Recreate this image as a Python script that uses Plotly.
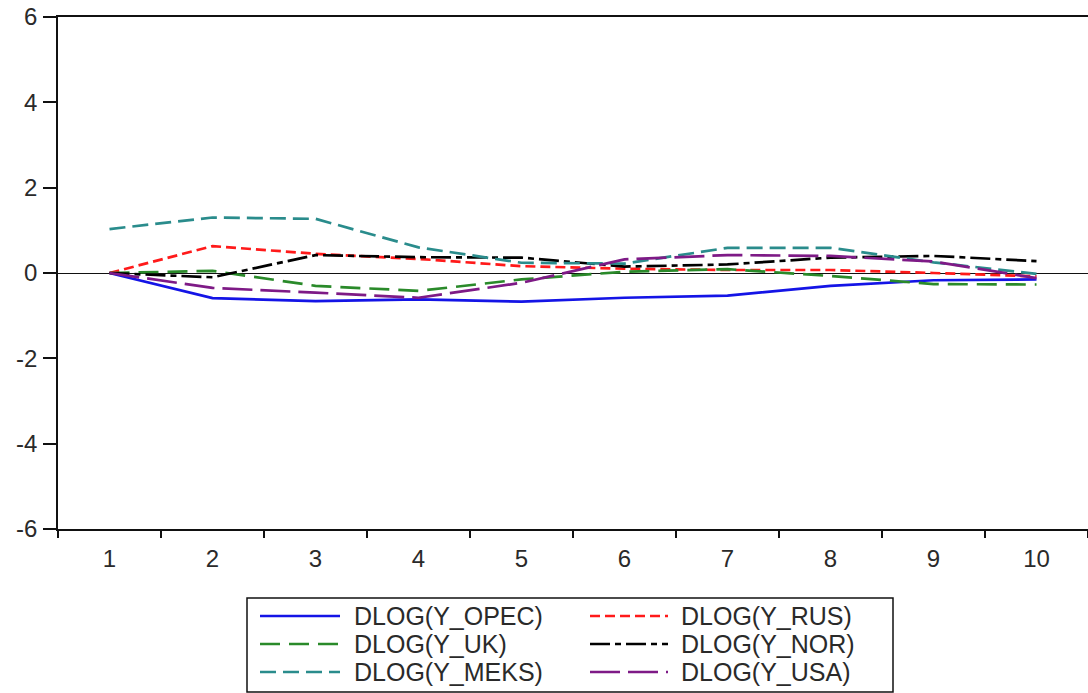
import plotly.graph_objects as go

# Response horizons (periods)
periods = ["1", "2", "3", "4", "5", "6", "7", "8", "9", "10"]

# Series values per period
y_opec = [0.00, -0.59, -0.66, -0.62, -0.67, -0.58, -0.53, -0.30, -0.17, -0.15]
y_rus = [0.00, 0.63, 0.45, 0.33, 0.16, 0.10, 0.07, 0.07, 0.00, -0.08]
y_uk = [0.00, 0.05, -0.30, -0.42, -0.15, 0.03, 0.09, -0.07, -0.26, -0.27]
y_nor = [0.00, -0.10, 0.42, 0.37, 0.36, 0.15, 0.20, 0.36, 0.40, 0.28]
y_meks = [1.03, 1.30, 1.27, 0.60, 0.24, 0.22, 0.59, 0.59, 0.25, -0.02]
y_usa = [0.00, -0.35, -0.46, -0.58, -0.23, 0.32, 0.42, 0.40, 0.27, -0.12]

# Y axis ticks and their labels (plain hyphen for negatives)
y_ticks = [-6, -4, -2, 0, 2, 4, 6]
y_tick_labels = ["-6", "-4", "-2", "0", "2", "4", "6"]

names = ["DLOG(Y_OPEC)", "DLOG(Y_RUS)", "DLOG(Y_UK)",
         "DLOG(Y_NOR)", "DLOG(Y_MEKS)", "DLOG(Y_USA)"]
values = [y_opec, y_rus, y_uk, y_nor, y_meks, y_usa]
colors = ["#1414e6", "#ff1a1a", "#2a8a2a", "#000000", "#2a8c8c", "#7e1a86"]
dashes = ["solid", "10px,5px", "20px,9px", "20px,5px,6px,5px",
          "16px,7px", "30px,8px"]

W, H = 1088, 693
L, R, T, B = 58, 0, 17, 164
PW, PH = W - L - R, H - T - B

fig = go.Figure()
for name, vals, col, dash in zip(names, values, colors, dashes):
    fig.add_trace(go.Scatter(
        x=periods, y=vals, mode="lines", name=name,
        line=dict(color=col, width=2.7, dash=dash),
        showlegend=False,
    ))


def px_x(px):
    return (px - L) / PW


def px_y(py):
    return (H - B - py) / PH


# Boxed legend below the plot, two columns by three rows
shapes = [dict(type="rect", xref="paper", yref="paper",
               x0=px_x(247), x1=px_x(893), y0=px_y(598), y1=px_y(692),
               line=dict(color="#111111", width=1.5), fillcolor="white")]
annotations = []
col_line_x = [(260, 340), (590, 668)]
col_text_x = [352, 679]
row_y = [616, 644, 672]
for i, (name, col, dash) in enumerate(zip(names, colors, dashes)):
    r, c = divmod(i, 2)
    x0, x1 = col_line_x[c]
    shapes.append(dict(type="line", xref="paper", yref="paper",
                       x0=px_x(x0), x1=px_x(x1),
                       y0=px_y(row_y[r]), y1=px_y(row_y[r]),
                       line=dict(color=col, width=2.7, dash=dash)))
    annotations.append(dict(xref="paper", yref="paper",
                            x=px_x(col_text_x[c]), y=px_y(row_y[r]),
                            text=name, showarrow=False,
                            xanchor="left", yanchor="middle",
                            font=dict(family="Liberation Sans, Arial",
                                      size=25, color="#2a2a2a")))

fig.update_layout(
    width=W, height=H,
    margin=dict(l=L, r=R, t=T, b=B),
    paper_bgcolor="white", plot_bgcolor="white",
    font=dict(family="Liberation Sans, Arial", size=24, color="#2a2a2a"),
    shapes=shapes, annotations=annotations,
    showlegend=False,
)
fig.update_xaxes(
    type="category", categoryorder="array", categoryarray=periods,
    range=[-0.5, 9.5], tickson="boundaries",
    ticks="outside", ticklen=7, tickwidth=1.5, tickcolor="#111111",
    showline=True, linecolor="#111111", linewidth=1.5, mirror=True,
    showgrid=False, zeroline=False, ticklabelstandoff=7,
)
fig.update_yaxes(
    range=[-6, 6], tickvals=y_ticks, ticktext=y_tick_labels,
    ticks="outside", ticklen=13, tickwidth=1.5, tickcolor="#111111",
    showline=True, linecolor="#111111", linewidth=1.5,
    showgrid=False, zeroline=True, zerolinecolor="#111111", zerolinewidth=1.2,
    ticklabelstandoff=1,
)

fig.write_html("out.html")
